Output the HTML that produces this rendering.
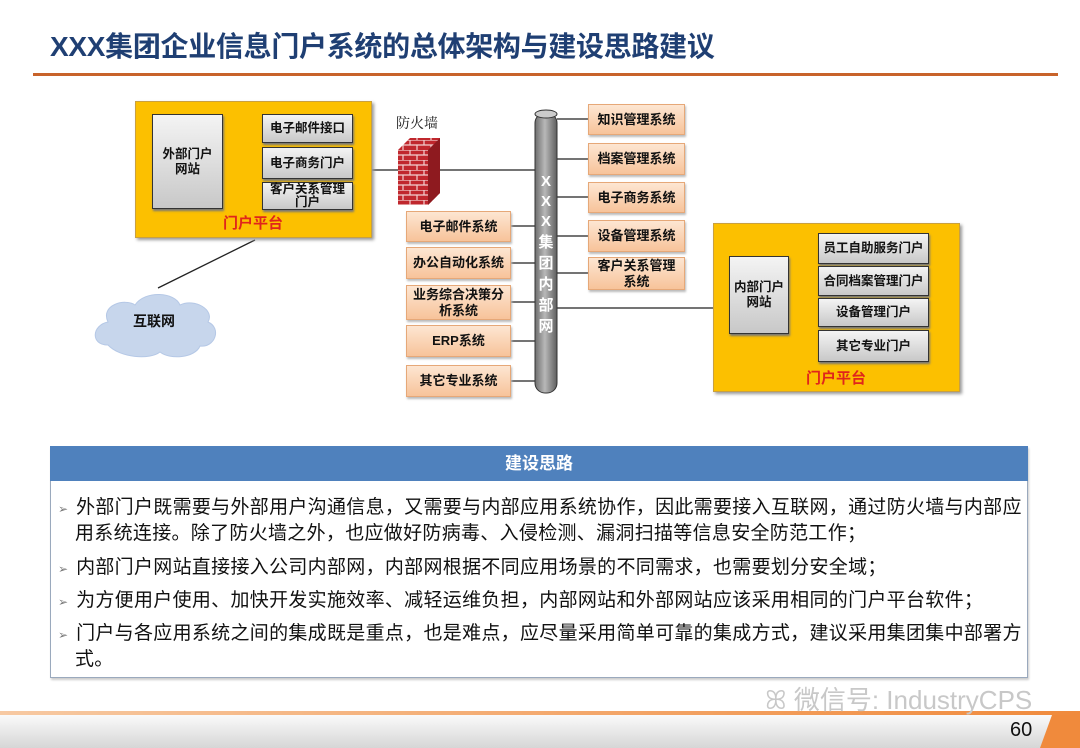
<!DOCTYPE html>
<html><head><meta charset="utf-8"><style>
*{margin:0;padding:0;box-sizing:border-box}
body{width:1080px;height:748px;background:#fff;position:relative;overflow:hidden;font-family:"Liberation Sans","Noto Sans CJK SC",sans-serif}
.a{position:absolute}
.title{left:50px;top:25px;font-size:28px;font-weight:bold;color:#1f3f73;letter-spacing:-0.3px;white-space:nowrap}
.yel{background:#fcc000;border:1px solid #c9a040;box-shadow:2px 2px 3px #999}
.gray{background:linear-gradient(#f4f4f4,#c8c8c8);border:1.5px solid #333;box-shadow:1px 2px 2px #777;display:flex;align-items:center;justify-content:center;text-align:center;font-size:12.5px;font-weight:bold;line-height:15px;color:#111}
.org{background:linear-gradient(#fde6d2,#f7c39a);border:1px solid #e6a878;box-shadow:1px 2px 2px #bbb;display:flex;align-items:center;justify-content:center;text-align:center;font-size:13px;font-weight:bold;line-height:16px;color:#111}
.red{color:#e0251b;font-weight:bold;font-size:15px}
.txt{left:58px;font-size:19px;color:#111;white-space:nowrap;letter-spacing:0.3px}
.b{color:#777;font-size:12px;margin-right:8px;letter-spacing:0}
</style></head><body>
<div class="a title">XXX集团企业信息门户系统的总体架构与建设思路建议</div>
<div class="a" style="left:33px;top:73px;width:1025px;height:3px;background:#c8632a"></div>

<svg class="a" style="left:0;top:0" width="1080" height="440">
 <g stroke="#222" stroke-width="1.3" fill="none">
  <line x1="372" y1="170" x2="400" y2="170"/><line x1="440" y1="170" x2="537" y2="170"/>
  <line x1="255" y1="240" x2="158" y2="288"/>
  <path d="M223 161H243M243 127V196M243 127H262M243 161H262M243 196H262"/>
  <path d="M789 295H803M803 248V346M803 248H818M803 281H818M803 312H818M803 346H818"/>
  <line x1="557" y1="308" x2="713" y2="308"/>
  <line x1="557" y1="119" x2="588" y2="119"/><line x1="557" y1="159" x2="588" y2="159"/>
  <line x1="557" y1="197" x2="588" y2="197"/><line x1="557" y1="236" x2="588" y2="236"/>
  <line x1="557" y1="273" x2="588" y2="273"/>
  <line x1="511" y1="226" x2="536" y2="226"/><line x1="511" y1="263" x2="536" y2="263"/>
  <line x1="511" y1="302" x2="536" y2="302"/><line x1="511" y1="341" x2="536" y2="341"/>
  <line x1="511" y1="381" x2="536" y2="381"/>
 </g>
 <defs><linearGradient id="cg" x1="0" x2="1"><stop offset="0" stop-color="#6e6e6e"/><stop offset=".45" stop-color="#b8b8b8"/><stop offset="1" stop-color="#5e5e5e"/></linearGradient>
 <pattern id="br" width="14" height="10" patternUnits="userSpaceOnUse"><rect width="14" height="10" fill="#c0272d"/><path d="M0 0H14M0 5H14M4 0V5M11 5V10" stroke="#f2d0d0" stroke-width="1.2"/></pattern></defs>
 <rect x="535" y="113" width="22" height="280" rx="10" fill="url(#cg)" stroke="#333"/>
 <ellipse cx="546" cy="114" rx="11" ry="4" fill="#ccc" stroke="#333"/>
 <text x="546" font-size="15" font-weight="bold" fill="#fff" text-anchor="middle" font-family="Liberation Sans,Noto Sans CJK SC,sans-serif">
  <tspan x="546" y="186">X</tspan><tspan x="546" y="206">X</tspan><tspan x="546" y="226">X</tspan><tspan x="546" y="247">集</tspan><tspan x="546" y="268">团</tspan><tspan x="546" y="289">内</tspan><tspan x="546" y="310">部</tspan><tspan x="546" y="331">网</tspan></text>
 <polygon points="398,150 410,138 440,138 440,193 428,205 398,205" fill="url(#br)"/>
 <polygon points="428,150 440,138 440,193 428,205" fill="#8e1a1f"/>
 <text x="396" y="128" font-size="14" fill="#222" font-family="Liberation Serif,Noto Serif CJK SC,serif">防火墙</text>
 <path d="M108 345 C90 345 92 325 108 322 C100 305 125 298 135 305 C145 290 175 292 180 305 C195 298 215 310 208 322 C222 328 215 348 200 346 C195 358 170 360 160 352 C150 360 120 358 108 345Z" fill="#c7d6ec" stroke="#b5c8e6"/>
 <text x="133" y="326" font-size="14" font-weight="bold" fill="#111" font-family="Liberation Sans,Noto Sans CJK SC,sans-serif">互联网</text>
</svg>

<div class="a yel" style="left:135px;top:101px;width:237px;height:137px"></div>
<div class="a gray" style="left:152px;top:114px;width:71px;height:95px">外部门户<br>网站</div>
<div class="a gray" style="left:262px;top:114px;width:91px;height:29px">电子邮件接口</div>
<div class="a gray" style="left:262px;top:147px;width:91px;height:32px">电子商务门户</div>
<div class="a gray" style="left:262px;top:182px;width:91px;height:28px;line-height:13px">客户关系管理<br>门户</div>
<div class="a red" style="left:223px;top:212px">门户平台</div>

<div class="a yel" style="left:713px;top:223px;width:247px;height:169px"></div>
<div class="a gray" style="left:729px;top:256px;width:60px;height:78px">内部门户<br>网站</div>
<div class="a gray" style="left:818px;top:233px;width:111px;height:31px">员工自助服务门户</div>
<div class="a gray" style="left:818px;top:266px;width:111px;height:30px">合同档案管理门户</div>
<div class="a gray" style="left:818px;top:298px;width:111px;height:29px">设备管理门户</div>
<div class="a gray" style="left:818px;top:330px;width:111px;height:32px">其它专业门户</div>
<div class="a red" style="left:806px;top:367px">门户平台</div>

<div class="a org" style="left:588px;top:104px;width:97px;height:31px">知识管理系统</div>
<div class="a org" style="left:588px;top:143px;width:97px;height:32px">档案管理系统</div>
<div class="a org" style="left:588px;top:182px;width:97px;height:31px">电子商务系统</div>
<div class="a org" style="left:588px;top:220px;width:97px;height:32px">设备管理系统</div>
<div class="a org" style="left:588px;top:257px;width:97px;height:33px">客户关系管理<br>系统</div>
<div class="a org" style="left:406px;top:211px;width:105px;height:31px">电子邮件系统</div>
<div class="a org" style="left:406px;top:247px;width:105px;height:32px">办公自动化系统</div>
<div class="a org" style="left:406px;top:285px;width:105px;height:35px">业务综合决策分<br>析系统</div>
<div class="a org" style="left:406px;top:325px;width:105px;height:32px">ERP系统</div>
<div class="a org" style="left:406px;top:365px;width:105px;height:32px">其它专业系统</div>

<div class="a" style="left:50px;top:446px;width:978px;height:232px;border:1px solid #9aa9bd;box-shadow:1px 2px 2px #ccc"></div>
<div class="a" style="left:50px;top:446px;width:978px;height:35px;background:#4f81bd;color:#fff;font-weight:bold;font-size:17px;text-align:center;line-height:35px">建设思路</div>
<div class="a txt" style="top:492px"><span class="b">➢</span>外部门户既需要与外部用户沟通信息，又需要与内部应用系统协作，因此需要接入互联网，通过防火墙与内部应</div>
<div class="a txt" style="top:518px;left:75px">用系统连接。除了防火墙之外，也应做好防病毒、入侵检测、漏洞扫描等信息安全防范工作；</div>
<div class="a txt" style="top:552px"><span class="b">➢</span>内部门户网站直接接入公司内部网，内部网根据不同应用场景的不同需求，也需要划分安全域；</div>
<div class="a txt" style="top:585px"><span class="b">➢</span>为方便用户使用、加快开发实施效率、减轻运维负担，内部网站和外部网站应该采用相同的门户平台软件；</div>
<div class="a txt" style="top:618px"><span class="b">➢</span>门户与各应用系统之间的集成既是重点，也是难点，应尽量采用简单可靠的集成方式，建议采用集团集中部署方</div>
<div class="a txt" style="top:644px;left:75px">式。</div>

<div class="a" style="left:0;top:711px;width:1080px;height:4px;background:linear-gradient(90deg,#f7c9a2,#f08a3c)"></div>
<div class="a" style="left:0;top:715px;width:1080px;height:33px;background:linear-gradient(#fafafa,#d6d6d6)"></div>
<div class="a" style="left:1040px;top:715px;width:40px;height:33px;background:#f08a3c;clip-path:polygon(30% 0,100% 0,100% 100%,0 100%)"></div>
<div class="a" style="left:1010px;top:719px;font-size:20px;color:#111">60</div>
<div class="a" style="left:765px;top:680px;font-size:26px;color:#c8c8c8;white-space:nowrap">ꕤ 微信号: IndustryCPS</div>
</body></html>
